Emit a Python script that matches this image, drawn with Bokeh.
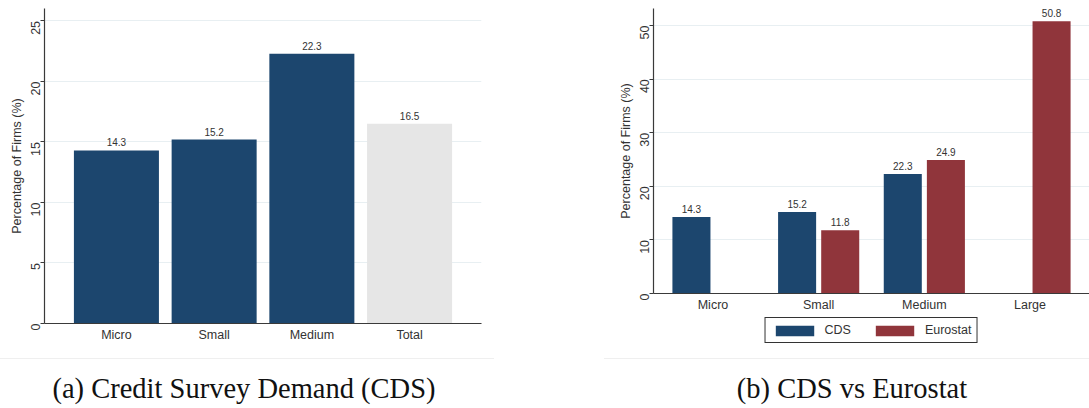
import math
from bokeh.plotting import figure
from bokeh.models import (FactorRange, Range1d, FixedTicker, ColumnDataSource,
                          Legend, LegendItem, Div, Spacer)
from bokeh.transform import dodge
from bokeh.layouts import row, column
from bokeh.embed import file_html
from bokeh.resources import INLINE
from bokeh.core.properties import value

# ---------------- data ----------------
cats_a = ["Micro", "Small", "Medium", "Total"]
share_a = [14.3, 15.2, 22.3, 16.5]
yticks_a = [0, 5, 10, 15, 20, 25]

cats_b = ["Micro", "Small", "Medium", "Large"]
cds_b = [14.3, 15.2, 22.3, None]
eurostat_b = [None, 11.8, 24.9, 50.8]
yticks_b = [0, 10, 20, 30, 40, 50]
series_b = ["CDS", "Eurostat"]

y_label = "Percentage of Firms (%)"
captions = ["(a) Credit Survey Demand (CDS)", "(b) CDS vs Eurostat"]

# ---------------- styles ----------------
NAVY = "#1c466e"
MAROON = "#90353b"
LIGHT = "#e6e6e6"
GRID = "#e8eff2"
AXIS = "#3a3a3a"
TXT = "#333333"
FONT = "Liberation Sans"


def style(p, ticks):
    p.outline_line_color = None
    p.background_fill_color = "white"
    p.border_fill_color = "white"
    p.xgrid.grid_line_color = None
    p.ygrid.grid_line_color = GRID
    p.ygrid.grid_line_width = 1
    p.yaxis.ticker = FixedTicker(ticks=ticks)
    ya = p.yaxis[0]
    ya.axis_label = y_label
    ya.axis_label_text_font = FONT
    ya.axis_label_text_font_size = "12.5px"
    ya.axis_label_text_font_style = "normal"
    ya.axis_label_text_color = TXT
    ya.axis_label_standoff = 0
    ya.major_label_orientation = math.pi / 2
    ya.major_label_text_font = FONT
    ya.major_label_text_font_size = "12.5px"
    ya.major_label_text_color = TXT
    ya.major_label_standoff = 5
    ya.major_tick_out = 4
    ya.major_tick_in = 0
    ya.major_tick_line_color = AXIS
    ya.minor_tick_line_color = None
    ya.axis_line_color = AXIS
    ya.axis_line_width = 1.2
    xa = p.xaxis[0]
    xa.major_tick_line_color = None
    xa.major_tick_out = 0
    xa.major_tick_in = 0
    xa.minor_tick_line_color = None
    xa.axis_line_color = AXIS
    xa.axis_line_width = 1.2
    xa.major_label_text_font = FONT
    xa.major_label_text_font_size = "12.5px"
    xa.major_label_text_color = TXT
    xa.major_label_standoff = 4


# ---------------- panel (a) ----------------
src_a = ColumnDataSource(dict(
    cat=cats_a, val=share_a,
    lab=[f"{v:.1f}" for v in share_a],
    col=[LIGHT if c == "Total" else NAVY for c in cats_a],
))
pa = figure(x_range=FactorRange(*cats_a, range_padding=0.118),
            y_range=Range1d(0, 26.03),
            width=494, height=358, output_backend="svg", toolbar_location=None,
            min_border_left=44, min_border_right=13, min_border_top=8,
            min_border_bottom=35)
style(pa, yticks_a)
pa.vbar(x="cat", top="val", width=0.87, source=src_a, fill_color="col",
        line_color=None)
pa.text(x="cat", y="val", text="lab", source=src_a, text_align="center",
        text_baseline="bottom", y_offset=-4, text_font=value(FONT),
        text_font_size="10px", text_color=TXT)

# ---------------- panel (b) ----------------
cds_cats = [c for c, v in zip(cats_b, cds_b) if v is not None]
cds_vals = [v for v in cds_b if v is not None]
eu_cats = [c for c, v in zip(cats_b, eurostat_b) if v is not None]
eu_vals = [v for v in eurostat_b if v is not None]
src_c = ColumnDataSource(dict(cat=cds_cats, val=cds_vals,
                              lab=[f"{v:.1f}" for v in cds_vals]))
src_e = ColumnDataSource(dict(cat=eu_cats, val=eu_vals,
                              lab=[f"{v:.1f}" for v in eu_vals]))

pb = figure(x_range=FactorRange(*cats_b, range_padding=0.0315),
            y_range=Range1d(0, 53.2),
            width=485, height=315, output_backend="svg", toolbar_location=None,
            min_border_left=49, min_border_right=0, min_border_top=8,
            min_border_bottom=22)
style(pb, yticks_b)
OFF = 0.204
r1 = pb.vbar(x=dodge("cat", -OFF, range=pb.x_range), top="val", width=0.36,
             source=src_c, fill_color=NAVY, line_color=None)
r2 = pb.vbar(x=dodge("cat", OFF, range=pb.x_range), top="val", width=0.36,
             source=src_e, fill_color=MAROON, line_color=None)
for s, off in ((src_c, -OFF), (src_e, OFF)):
    pb.text(x=dodge("cat", off, range=pb.x_range), y="val", text="lab", source=s,
            text_align="center", text_baseline="bottom", y_offset=-4,
            text_font=value(FONT), text_font_size="10px", text_color=TXT)

# legend strip below panel (b): the same two series on a frame whose
# categories are the series names, so the size bars themselves are not shown
pl = figure(x_range=FactorRange(*series_b), y_range=Range1d(0, 1),
            width=485, height=43, output_backend="svg", toolbar_location=None,
            min_border_left=49, min_border_right=0, min_border_top=0,
            min_border_bottom=0)
pl.axis.visible = False
pl.grid.visible = False
pl.outline_line_color = None
pl.border_fill_color = "white"
pl.background_fill_color = "white"
l1 = pl.vbar(x="cat", top="val", width=0.36, source=src_c,
             fill_color=NAVY, line_color=None)
l2 = pl.vbar(x="cat", top="val", width=0.36, source=src_e,
             fill_color=MAROON, line_color=None)
legend = Legend(items=[LegendItem(label=series_b[0], renderers=[l1]),
                       LegendItem(label=series_b[1], renderers=[l2])],
                orientation="horizontal", location="top_center",
                glyph_width=48, glyph_height=13, label_height=13,
                label_standoff=6, spacing=20, padding=5, margin=2,
                border_line_color="#333333", border_line_width=1.3,
                border_line_alpha=1.0,
                label_text_font=FONT, label_text_font_size="12.5px",
                label_text_color=TXT, background_fill_color="white",
                background_fill_alpha=1)
pl.add_layout(legend)


def caption(text, w, pad_left=0, pad_right=0):
    html = (f'<div style="width:{w}px;height:50px;box-sizing:border-box;'
            f'border-top:1px solid #efefef;text-align:center;'
            f'padding-top:14px;padding-left:{pad_left}px;'
            f'padding-right:{pad_right}px;margin:0;'
            f'font-family:\'Liberation Serif\',serif;font-size:28.5px;'
            f'color:#111;line-height:32px;white-space:nowrap;">{text}</div>')
    return Div(text=html, width=w, height=50, margin=0)


cap_a = caption(captions[0], 494, pad_right=6)
cap_b = caption(captions[1], 485, pad_left=11)

layout = row(column(pa, cap_a, margin=0),
             Spacer(width=110, height=408, margin=0),
             column(pb, pl, cap_b, margin=0), margin=0)

open("out.html", "w").write(file_html(layout, INLINE))
